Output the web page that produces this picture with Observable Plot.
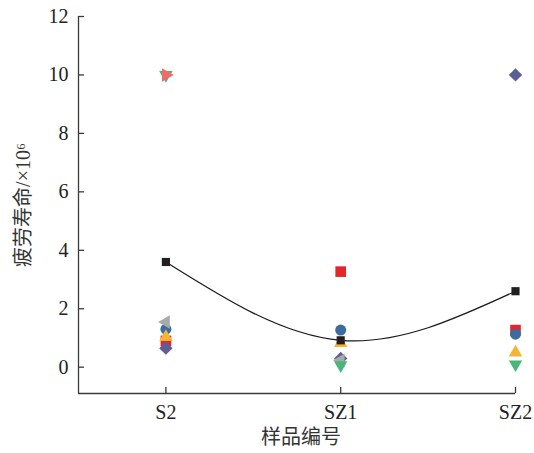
<!DOCTYPE html>
<html><head><meta charset="utf-8">
<script src="https://cdn.jsdelivr.net/npm/d3@7"></script>
<script src="https://cdn.jsdelivr.net/npm/@observablehq/plot@0.6"></script>
<style>body{margin:0;background:#fff}#chart svg{display:block}</style>
</head><body><div id="chart"></div>
<script>
const samples = ["S2", "SZ1", "SZ2"];
const yTicks = [0, 2, 4, 6, 8, 10, 12];
const xTicks = [1, 2, 3];
const xDomain = [0.5, 3];
const yDomain = [-0.9, 12];
const yTitle = "疲劳寿命/×10⁶";
const xTitle = "样品编号";

// series values per sample (S2, SZ1, SZ2)
const blackSquare = [3.6, 0.92, 2.6];
const redSquare = [0.9, 3.27, 1.27];
const blueCircle = [1.3, 1.27, 1.13];
const yellowUp = [1.03, 0.82, 0.5];
const purpleDiamond = [0.65, 0.3, 10];
const grayLeft = [1.55, 0.24, null];
const greenDown = [10, 0.07, 0.1];
const salmonRight = [10, null, null];

const styles = [
  {values: redSquare, symbol: "square", fill: "#e4262a", rotate: 0, r: 6},
  {values: blueCircle, symbol: "circle", fill: "#3c6b9d", rotate: 0, r: 5.5},
  {values: yellowUp, symbol: "triangle", fill: "#f5b533", rotate: 0, r: 5},
  {values: blackSquare, symbol: "square", fill: "#231f20", rotate: 0, r: 4.6},
  {values: purpleDiamond, symbol: "diamond2", fill: "#5d5e98", rotate: 0, r: 6},
  {values: grayLeft, symbol: "triangle", fill: "#a7a9ac", rotate: -90, r: 5},
  {values: greenDown, symbol: "triangle", fill: "#4bb67a", rotate: 180, r: 5},
  {values: salmonRight, symbol: "triangle", fill: "#f26a6a", rotate: 90, r: 5}
];

const rows = [];
styles.forEach((s, k) => s.values.forEach((v, i) => {
  if (v != null) rows.push({x: i + 1, y: v, k, symbol: s.symbol, fill: s.fill, rotate: s.rotate, r: s.r});
}));
const fitRows = blackSquare.map((v, i) => ({x: i + 1, y: v}));

const W = 534, H = 453, mL = 78, mR = 19, mT = 16, mB = 60;
const innerW = W - mL - mR, innerH = H - mT - mB;
const tickLen = 6;
const axisColor = "#3a3a3a";
const serif = "'Liberation Serif', 'Times New Roman', serif";
const mixed = "'Liberation Serif', 'Noto Sans CJK SC', serif";

const chart = Plot.plot({
  width: W,
  height: H,
  marginLeft: mL,
  marginRight: mR,
  marginTop: mT,
  marginBottom: mB,
  style: {background: "#fff"},
  x: {domain: xDomain, axis: null},
  y: {domain: yDomain, axis: null},
  r: {type: "identity"},
  symbol: {type: "identity"},
  marks: [
    Plot.ruleX([xDomain[0]], {stroke: axisColor, strokeWidth: 1.3}),
    Plot.ruleY([yDomain[0]], {stroke: axisColor, strokeWidth: 1.3}),
    Plot.tickY(yTicks, {y: d => d, insetRight: innerW - tickLen, stroke: axisColor, strokeWidth: 1.3}),
    Plot.tickX(xTicks, {x: d => d, insetTop: innerH - tickLen, stroke: axisColor, strokeWidth: 1.3}),
    Plot.axisY(yTicks, {anchor: "left", tickSize: 0, tickPadding: 10, label: null, fontSize: 20, fontFamily: serif, fill: "#222"}),
    Plot.axisX(xTicks, {anchor: "bottom", tickSize: 0, tickPadding: 11, tickFormat: d => samples[d - 1], label: null, fontSize: 20, fontFamily: serif, fill: "#222"}),
    Plot.text([yTitle], {frameAnchor: "left", textAnchor: "middle", rotate: -90, dx: -55, fontSize: 20, fontFamily: mixed, fill: "#333"}),
    Plot.text([xTitle], {frameAnchor: "bottom", textAnchor: "middle", dy: 50, dx: 4, fontSize: 20, fontFamily: mixed, fill: "#333"}),
    Plot.line(fitRows, {x: "x", y: "y", curve: "natural", stroke: "#1a1a1a", strokeWidth: 1.2}),
    Plot.dot(rows, {x: "x", y: "y", symbol: "symbol", fill: "fill", rotate: "rotate", r: "r", stroke: null})
  ]
});
document.getElementById("chart").appendChild(chart);
</script>
</body></html>
